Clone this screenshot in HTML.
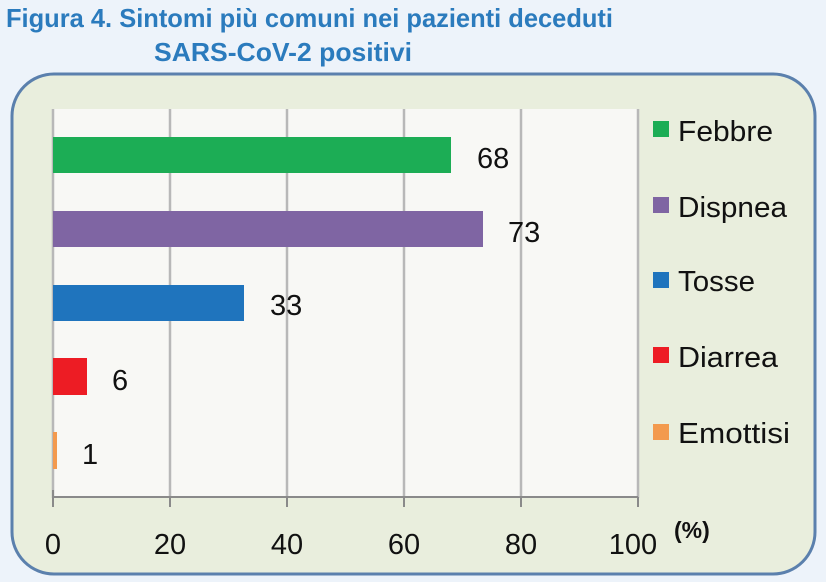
<!DOCTYPE html>
<html><head><meta charset="utf-8"><style>
body{margin:0;width:826px;height:582px;background:#edf3fa;overflow:hidden;font-family:"Liberation Sans",sans-serif}
</style></head><body>
<svg width="826" height="582" xmlns="http://www.w3.org/2000/svg" style="position:absolute;left:0;top:0">
<text x="6" y="27" font-family="Liberation Sans" font-weight="bold" font-size="26" fill="#2b7bbd" textLength="607" lengthAdjust="spacingAndGlyphs">Figura 4. Sintomi più comuni nei pazienti deceduti</text>
<text x="154" y="61" font-family="Liberation Sans" font-weight="bold" font-size="26" fill="#2b7bbd" textLength="258" lengthAdjust="spacingAndGlyphs">SARS-CoV-2 positivi</text>
<rect x="12" y="74" width="803" height="500" rx="42" fill="#e9eedd" stroke="#5b80ad" stroke-width="3"/>
<rect x="53" y="109" width="585" height="389" fill="#f8f8f5"/>
<g stroke="#b8b8b8" stroke-width="2.5">
<line x1="170" y1="109" x2="170" y2="498"/><line x1="287" y1="109" x2="287" y2="498"/>
<line x1="404" y1="109" x2="404" y2="498"/><line x1="521" y1="109" x2="521" y2="498"/>
<line x1="638" y1="109" x2="638" y2="498"/><line x1="53" y1="109" x2="53" y2="498"/>
</g>
<g stroke="#8a8a8a" stroke-width="2">
<line x1="53" y1="497" x2="638" y2="497"/>
<line x1="53" y1="490" x2="53" y2="507"/><line x1="170" y1="497" x2="170" y2="507"/><line x1="287" y1="497" x2="287" y2="507"/><line x1="404" y1="497" x2="404" y2="507"/><line x1="521" y1="497" x2="521" y2="507"/><line x1="638" y1="497" x2="638" y2="507"/>
</g>
<rect x="53" y="137" width="398" height="36" fill="#1cad55"/>
<rect x="53" y="211" width="430" height="36" fill="#7f65a3"/>
<rect x="53" y="285" width="191" height="36" fill="#1f74bd"/>
<rect x="53" y="358" width="34" height="37" fill="#ed1c24"/>
<rect x="53" y="432" width="4" height="37" fill="#f39a4e"/>
<g font-family="Liberation Sans" font-size="29" fill="#111">
<text x="477" y="168">68</text><text x="508" y="242">73</text><text x="270" y="315">33</text>
<text x="112" y="390">6</text><text x="82" y="464">1</text>
<g text-anchor="middle"><text x="53" y="554">0</text><text x="170" y="554">20</text><text x="287" y="554">40</text><text x="404" y="554">60</text><text x="521" y="554">80</text><text x="633" y="554">100</text></g>
<text x="678" y="141" textLength="95" lengthAdjust="spacingAndGlyphs">Febbre</text>
<text x="678" y="217" textLength="109" lengthAdjust="spacingAndGlyphs">Dispnea</text>
<text x="678" y="291" textLength="77" lengthAdjust="spacingAndGlyphs">Tosse</text>
<text x="678" y="367" textLength="100" lengthAdjust="spacingAndGlyphs">Diarrea</text>
<text x="678" y="443" textLength="112" lengthAdjust="spacingAndGlyphs">Emottisi</text>
</g>
<text x="674" y="538" font-family="Liberation Sans" font-weight="bold" font-size="23" fill="#111">(%)</text>
<rect x="653" y="121" width="16" height="16" fill="#1cad55"/>
<rect x="653" y="197" width="16" height="16" fill="#7f65a3"/>
<rect x="653" y="272" width="16" height="16" fill="#1f74bd"/>
<rect x="653" y="347" width="16" height="16" fill="#ed1c24"/>
<rect x="653" y="424" width="16" height="16" fill="#f39a4e"/>
</svg>
</body></html>
